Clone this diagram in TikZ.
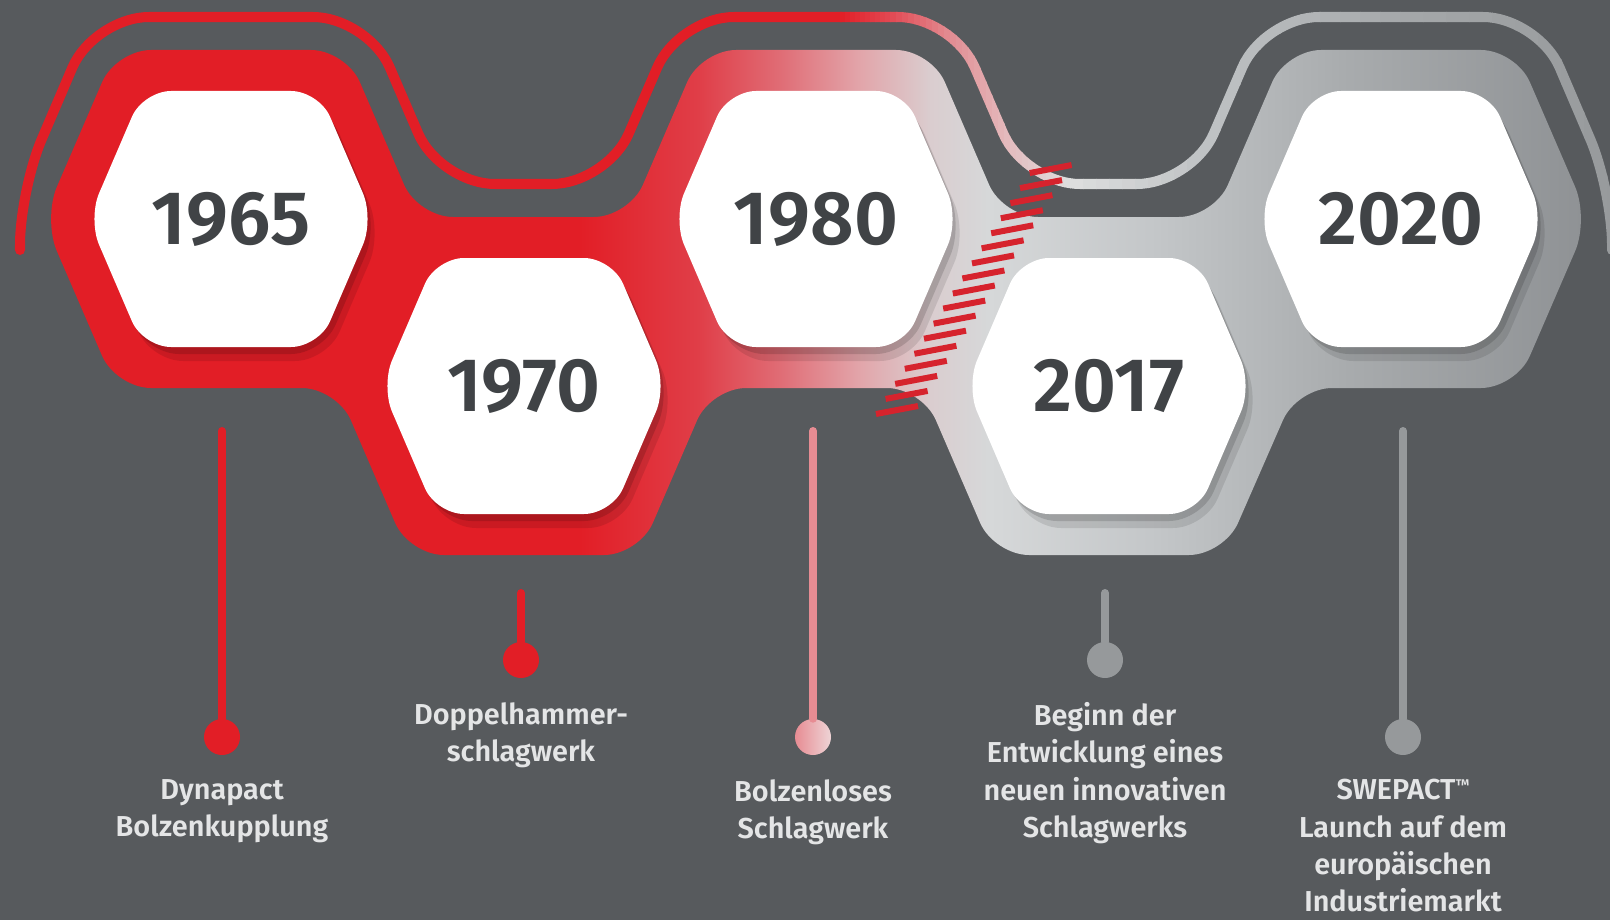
\documentclass[tikz,border=0pt]{standalone}
\usepackage{fontspec}
\setmainfont{Fira Sans}
\newfontfamily\yearfont{Fira Sans}[UprightFont=* SemiBold]
\newfontfamily\labelfont{Fira Sans}[UprightFont=* SemiBold]
\usetikzlibrary{positioning}

\definecolor{bgrey}{RGB}{87,90,93}
\definecolor{hexred}{RGB}{226,30,38}
\definecolor{yeargrey}{RGB}{64,67,70}
\definecolor{labelgrey}{RGB}{228,229,230}
\definecolor{cutred}{RGB}{214,35,45}
\definecolor{pinkstem}{RGB}{231,140,147}
\definecolor{pinkdot}{RGB}{238,212,214}
\definecolor{greystem}{RGB}{150,153,155}
% band colours
\definecolor{b1}{RGB}{224,62,72}
\definecolor{b2}{RGB}{224,108,117}
\definecolor{b3}{RGB}{226,165,170}
\definecolor{b4}{RGB}{218,205,207}
\definecolor{b5}{RGB}{214,216,217}
\definecolor{b6}{RGB}{196,199,201}
\definecolor{b7}{RGB}{168,171,173}
\definecolor{b8}{RGB}{140,143,146}
% top line colours
\definecolor{l1}{RGB}{226,72,82}
\definecolor{l2}{RGB}{226,140,146}
\definecolor{l3}{RGB}{228,188,191}
\definecolor{l4}{RGB}{222,223,223}
\definecolor{l5}{RGB}{192,195,197}
\definecolor{l6}{RGB}{165,168,170}
\definecolor{l7}{RGB}{150,153,155}

\pgfdeclarehorizontalshading{bandfill}{100bp}{color(0bp)=(hexred); color(43bp)=(hexred);
  color(46.7bp)=(b1); color(49.2bp)=(b2); color(51.7bp)=(b3); color(53.9bp)=(b4);
  color(55.7bp)=(b5); color(60.7bp)=(b6); color(66.9bp)=(b7); color(75bp)=(b8); color(100bp)=(b8)}

\def\toparc{(20,250) -- (20,190) -- (94,17) -- (368,17) -- (440,184) -- (607,184) -- (679,17) -- (953,17) -- (1025,184) -- (1192,184) -- (1264,17) -- (1538,17) -- (1612,190) -- (1612,250)}
\def\bandpath{(231,50) -- (346,50) -- (418,217) -- (629,217) -- (701,50) -- (931,50) -- (1003,217) -- (1214,217) -- (1286,50) -- (1516,50) -- (1589,219) -- (1516,388) -- (1297,388) -- (1224,555) -- (994,555) -- (922,388) -- (711,388) -- (639,555) -- (409,555) -- (337,388) -- (116,388) -- (43,219) -- (116,50) -- cycle}
\def\hexcell[#1](#2,#3){\fill[#1] (#2,#3-128) -- (#2+88,#3-128) -- (#2+143,#3) -- (#2+88,#3+128) -- (#2-88,#3+128) -- (#2-143,#3) -- (#2-88,#3-128) -- cycle;}

\begin{document}
\begin{tikzpicture}[x=0.025cm, y=-0.025cm,
    topline/.style={line width=0.25cm, line cap=round, rounded corners=1.375cm},
    whitehex/.style={white, rounded corners=0.7cm},
    hexshadow/.style={black, opacity=#1, rounded corners=0.8cm},
    year/.style={font=\yearfont\fontsize{54}{54}\selectfont, text=yeargrey, inner sep=0pt},
    info/.style={font=\labelfont\fontsize{20.5}{26.5}\selectfont, text=labelgrey, align=center, inner sep=0pt},
    dot/.style={circle, minimum size=0.9cm, inner sep=0pt},
    stem/.style={line width=0.2cm, line cap=round},
    cutmark/.style={line width=0.15cm, draw=cutred}]
  \useasboundingbox (0,0) rectangle (1610,920);
  \fill[bgrey] (0,0) rectangle (1610,920);

  %%%%% top line %%%%%
  \begin{scope}
    \clip (-20,-20) rectangle (842,300);
    \draw[topline, draw=hexred] \toparc;
  \end{scope}
  \foreach \xa/\xb/\ca/\cb in {840/890/hexred/l1, 890/950/l1/l2, 950/1010/l2/l3, 1010/1070/l3/l4, 1070/1200/l4/l5, 1200/1400/l5/l6, 1400/1630/l6/l7}
    \foreach \k in {0,...,9}{
      \pgfmathsetmacro\sa{\xa+(\xb-\xa)*\k/10}
      \pgfmathsetmacro\sb{\xa+(\xb-\xa)*(\k+1)/10+0.6}
      \pgfmathtruncatemacro\pc{10*\k+5}
      \begin{scope}
        \clip (\sa,-20) rectangle (\sb,300);
        \draw[topline, draw=\cb!\pc!\ca] \toparc;
      \end{scope}
    }

  %%%%% band %%%%%
  \begin{scope}
    \clip[rounded corners=0.875cm] \bandpath;
    \shade[shading=bandfill] (0,0) rectangle (1610,920);
    % shadows under the cells
    \hexcell[hexshadow=0.10](239,233)
    \hexcell[hexshadow=0.10](532,400)
    \hexcell[hexshadow=0.10](824,233)
    \hexcell[hexshadow=0.10](1117,400)
    \hexcell[hexshadow=0.10](1409,233)
    \hexcell[hexshadow=0.14](235,226)
    \hexcell[hexshadow=0.14](528,393)
    \hexcell[hexshadow=0.14](820,226)
    \hexcell[hexshadow=0.14](1113,393)
    \hexcell[hexshadow=0.14](1405,226)
  \end{scope}

  %%%%% cells %%%%%
  \hexcell[whitehex](231,219)
  \hexcell[whitehex](524,386)
  \hexcell[whitehex](816,219)
  \hexcell[whitehex](1109,386)
  \hexcell[whitehex](1401,219)

  \node[year] (y1965) at (231,219) {1965};
  \node[year] (y1970) at (524,386) {1970};
  \node[year] (y1980) at (816,219) {1980};
  \node[year] (y2017) at (1109,386) {2017};
  \node[year] (y2020) at (1401,219) {2020};

  %%%%% cut %%%%%
  \foreach \k in {0,...,16}
    \draw[cutmark] ({876+9.6*\k},{414-15.06*\k}) -- ++(42,-8);

  %%%%% pins %%%%%
  \node[dot, fill=hexred] (d1965) at (222,737) {};
  \node[dot, fill=hexred] (d1970) at (521,660) {};
  \node[dot, left color=pinkstem, right color=pinkdot] (d1980) at (813,737) {};
  \node[dot, fill=greystem] (d2017) at (1105,660) {};
  \node[dot, fill=greystem] (d2020) at (1403,737) {};

  \coordinate (s1965) at (222,431);
  \coordinate (s1970) at (521,593);
  \coordinate (s1980) at (813,431);
  \coordinate (s2017) at (1105,593);
  \coordinate (s2020) at (1403,431);

  \draw[stem, draw=hexred] (s1965) -- (d1965.north);
  \draw[stem, draw=hexred] (s1970) -- (d1970.north);
  \draw[stem, draw=pinkstem] (s1980) -- (d1980.north);
  \draw[stem, draw=greystem] (s2017) -- (d2017.north);
  \draw[stem, draw=greystem] (s2020) -- (d2020.north);

  \node[info, below=0.6cm of d1965] (t1965) {Dynapact\\Bolzenkupplung};
  \node[info, below=0.6cm of d1970] (t1970) {Doppelhammer-\\schlagwerk};
  \node[info, below=0.6cm of d1980] (t1980) {Bolzenloses\\Schlagwerk};
  \node[info, below=0.6cm of d2017] (t2017) {Beginn der\\Entwicklung eines\\neuen innovativen\\Schlagwerks};
  \node[info, below=0.6cm of d2020] (t2020) {SWEPACT\raisebox{0.32em}{\fontsize{11}{11}\selectfont ™}\\Launch auf dem\\europäischen\\Industriemarkt};
\end{tikzpicture}
\end{document}
